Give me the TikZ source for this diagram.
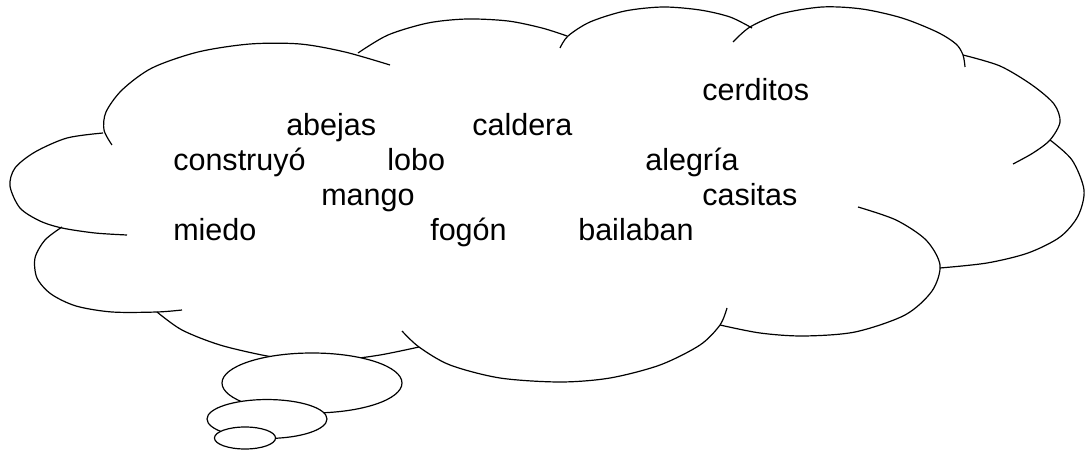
\documentclass[tikz,border=0pt]{standalone}
\usepackage{fontspec}
\setmainfont{Liberation Sans}
\begin{document}
\begin{tikzpicture}[x=0.75pt,y=-0.75pt,
  cloudline/.style={line width=0.9pt, line join=round, line cap=butt},
  bubble/.style={line width=0.9pt, fill=white},
  word/.style={anchor=base west, inner sep=0pt, font=\fontsize{22.9}{27}\selectfont}]
\useasboundingbox (0,0) rectangle (1088,452);
% cloud lobes
\draw[cloudline] plot[smooth] coordinates {(112,145) (104,130) (106,112) (122,90) (152,68) (198,52) (250,44) (300,44) (345,52) (390,65)};
\draw[cloudline] plot[smooth] coordinates {(358,53) (388,35) (428,23) (467,19) (508,21) (542,28) (567,36)};
\draw[cloudline] plot[smooth] coordinates {(560,48) (568,36) (590,22) (625,11) (663,7) (700,10) (730,17) (752,28)};
\draw[cloudline] plot[smooth] coordinates {(733,42) (750,27) (780,14) (822,7) (862,9) (902,18) (937,32) (956,44) (963,55) (965,67)};
\draw[cloudline] plot[smooth] coordinates {(963,55) (1000,66) (1032,85) (1054,104) (1060,122) (1050,140) (1033,153) (1013,164)};
\draw[cloudline] plot[smooth] coordinates {(1050,140) (1072,160) (1084,190) (1078,216) (1060,237) (1028,253) (987,263) (940,268)};
\draw[cloudline] plot[smooth] coordinates {(858,207) (896,220) (926,240) (940,265) (932,291) (905,315) (855,332) (803,336) (760,333) (720,325)};
\draw[cloudline] plot[smooth] coordinates {(727,308) (720,325) (700,345) (660,365) (610,378) (560,382) (500,378) (450,365) (419,347) (402,331)};
\draw[cloudline] plot[smooth] coordinates {(419,347) (380,355) (340,360) (300,360) (267,356) (220,345) (182,330) (157,312)};
\draw[cloudline] plot[smooth] coordinates {(62,227) (45,240) (35,258) (37,278) (51,294) (76,306) (112,312) (157,312) (182,310)};
\draw[cloudline] plot[smooth] coordinates {(103,133) (67,138) (35,152) (15,168) (10,186) (20,208) (40,221) (62,228) (95,233) (127,235)};
% thought bubbles
\draw[bubble] (312,383) ellipse [x radius=67.5pt, y radius=22.5pt];
\draw[bubble] (267,419) ellipse [x radius=45pt, y radius=14.6pt];
\draw[bubble] (245,438) ellipse [x radius=22.9pt, y radius=8.25pt];
% words
\node[word] (cerditos) at (702,101) {cerditos};
\node[word] (abejas) at (286,136) {abejas};
\node[word] (caldera) at (472,136) {caldera};
\node[word] (construyo) at (173,171) {construyó};
\node[word] (lobo) at (387,171) {lobo};
\node[word] (alegria) at (645,171) {alegría};
\node[word] (mango) at (321,206) {mango};
\node[word] (casitas) at (702,206) {casitas};
\node[word] (miedo) at (173,241) {miedo};
\node[word] (fogon) at (430,241) {fogón};
\node[word] (bailaban) at (578,241) {bailaban};
\end{tikzpicture}
\end{document}
